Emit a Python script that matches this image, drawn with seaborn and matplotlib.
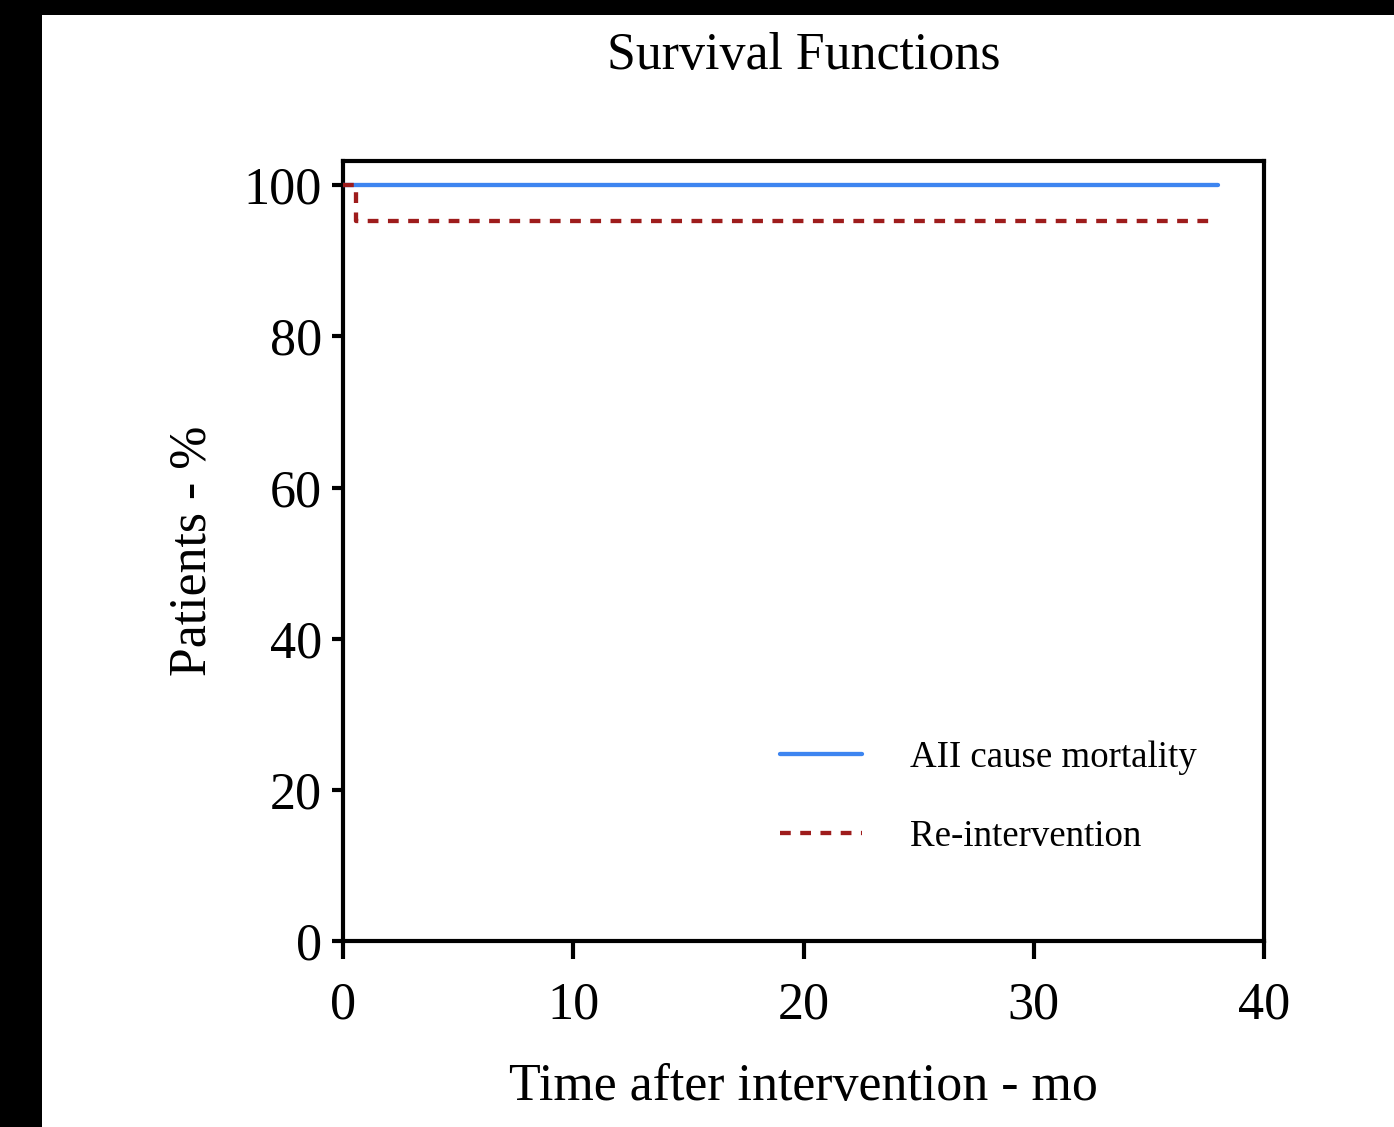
import matplotlib
matplotlib.use("Agg")
import matplotlib.pyplot as plt
import seaborn as sns
import pandas as pd
from matplotlib.patches import Rectangle

# Data
mort_time = [0.0, 38.0]
mort_pct = [100.0, 100.0]
reint_time = [0.0, 0.56, 37.9]
reint_pct = [100.0, 95.24, 95.24]
labels = ["AII cause mortality", "Re-intervention"]
x_ticks = [0, 10, 20, 30, 40]
y_ticks = [0, 20, 40, 60, 80, 100]

sns.set_theme(style="ticks")
plt.rcParams['font.family'] = ['Liberation Serif', 'DejaVu Serif']
plt.rcParams['text.color'] = 'black'
plt.rcParams['axes.labelcolor'] = 'black'

fig = plt.figure(figsize=(13.94, 11.27), dpi=100, facecolor="black")
bg = Rectangle((42/1394, 0), 1 - 42/1394, 1 - 15/1127,
               transform=fig.transFigure, facecolor="white",
               edgecolor="none", zorder=-10)
fig.add_artist(bg)
ax = fig.add_axes([343/1394, 1 - 941/1127, (1264-343)/1394, (941-161)/1127])
ax.set_zorder(5)
ax.set_facecolor("white")

df1 = pd.DataFrame({"t": mort_time, "p": mort_pct})
df2 = pd.DataFrame({"t": reint_time, "p": reint_pct})
sns.lineplot(data=df1, x="t", y="p", ax=ax, color="#3d85f0", lw=3.1,
             drawstyle="steps-post", label=labels[0], zorder=3)
sns.lineplot(data=df2, x="t", y="p", ax=ax, color="#9e1c1c", lw=3.1,
             drawstyle="steps-post", label=labels[1], zorder=4,
             dashes=False, linestyle=(0, (2.5, 2.2)))

ax.set_xlim(0, 40)
ax.set_ylim(0, 103.2)
ax.set_xticks(x_ticks)
ax.set_yticks(y_ticks)
ax.tick_params(axis="both", direction="out", width=3, labelsize=37.5,
               colors="black")
ax.tick_params(axis="x", length=13, pad=16)
ax.tick_params(axis="y", length=8, pad=7)
for s in ax.spines.values():
    s.set_linewidth(3)
    s.set_color("black")

ax.set_title("Survival Functions", fontsize=37.4, pad=66, color="black")
ax.set_xlabel("Time after intervention - mo", fontsize=37.4, labelpad=24)
ax.set_ylabel("Patients - %", fontsize=37.4, labelpad=20)

leg = ax.legend(loc="upper left", bbox_to_anchor=(0.4387, 0.30), frameon=False,
                fontsize=26.6, handlelength=2.2, handletextpad=1.3,
                labelspacing=1.22)
for h in leg.get_lines():
    h.set_linewidth(3.1)
for t in leg.get_texts():
    t.set_color("black")

fig.savefig("out.png", dpi=100, facecolor=fig.get_facecolor())
